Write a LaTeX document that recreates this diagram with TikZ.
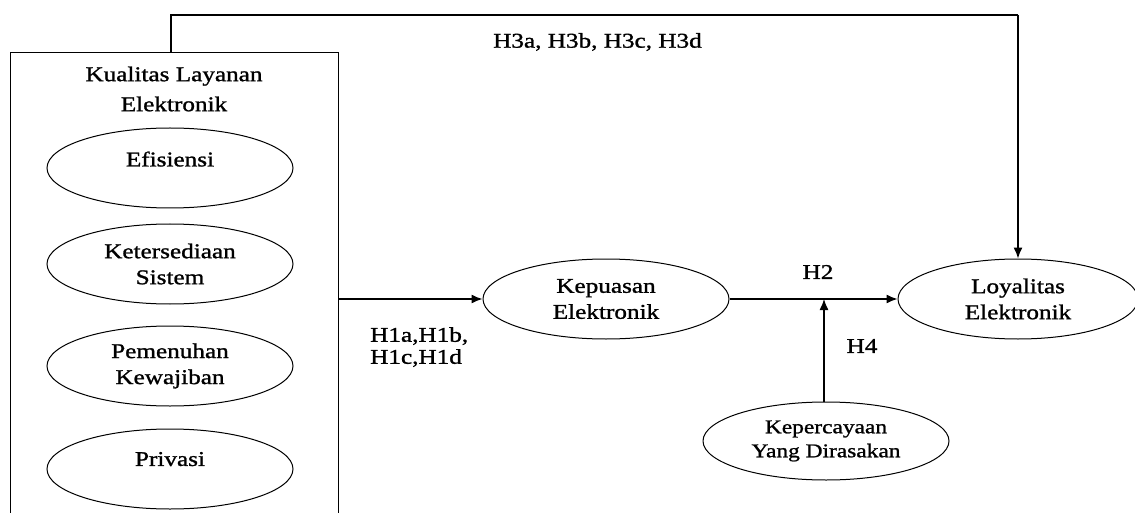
\documentclass[tikz,border=0pt]{standalone}
\usepackage{fontspec}
\setmainfont{Liberation Serif}[FakeStretch=1.2, FakeBold=1.2]
\usetikzlibrary{shapes.geometric,arrows.meta}
\begin{document}
\begin{tikzpicture}[x=1pt,y=-1pt,
  ell/.style={draw, ellipse, line width=1pt, minimum width=246pt, minimum height=80pt, inner sep=0pt, align=center, font=\fontsize{21}{26}\selectfont},
  lbl/.style={inner sep=0pt, align=left, font=\fontsize{21}{22}\selectfont},
  conn/.style={line width=1.3pt, -{Latex[length=11pt,width=9pt]}},
  plain/.style={line width=1.3pt}]
\useasboundingbox (0,0) rectangle (1135,513);
% outer box
\node[draw, line width=1.3pt, minimum width=328pt, minimum height=480pt, inner sep=0pt, anchor=north west] (box) at (10,52) {};
\node[inner sep=0pt, align=center, font=\fontsize{21}{30}\selectfont] (title) at (174,89) {Kualitas Layanan\\Elektronik};
\node[ell] (efi) at (170,168) {Efisiensi\\[-8pt]~};
\node[ell] (ket) at (170,264) {Ketersediaan\\Sistem};
\node[ell] (pem) at (170,366) {Pemenuhan\\Kewajiban};
\node[ell] (pri) at (170,469) {Privasi\\[-6pt]~};
% right side
\node[ell] (kep) at (606,299) {Kepuasan\\Elektronik};
\node[ell, minimum width=240pt] (loy) at (1018,299) {Loyalitas\\Elektronik};
\node[ell, minimum height=78pt, font=\fontsize{19.5}{24}\selectfont] (per) at (826,441) {Kepercayaan\\Yang Dirasakan};
% connectors
\coordinate (tl) at (171,15);
\coordinate (tr) at (1018,15);
\coordinate (boxout) at (338,299);
\coordinate (j) at (824,299);
\draw[plain] (171,52) -- (tl) -- (tr);
\draw[conn] (tr) -- (loy.north);
\draw[conn] (boxout) -- (kep.west);
\draw[conn] (kep.east) -- (loy.west);
\draw[conn] (per.north -| j) -- (j);
% labels
\node[lbl, anchor=west] (h3) at (493,42) {H3a, H3b, H3c, H3d};
\node[lbl, anchor=north west] (h1) at (370,327) {H1a,H1b,\\H1c,H1d};
\node[lbl] (h2) at (818,272) {H2};
\node[lbl] (h4) at (862,346) {H4};
\end{tikzpicture}
\end{document}
